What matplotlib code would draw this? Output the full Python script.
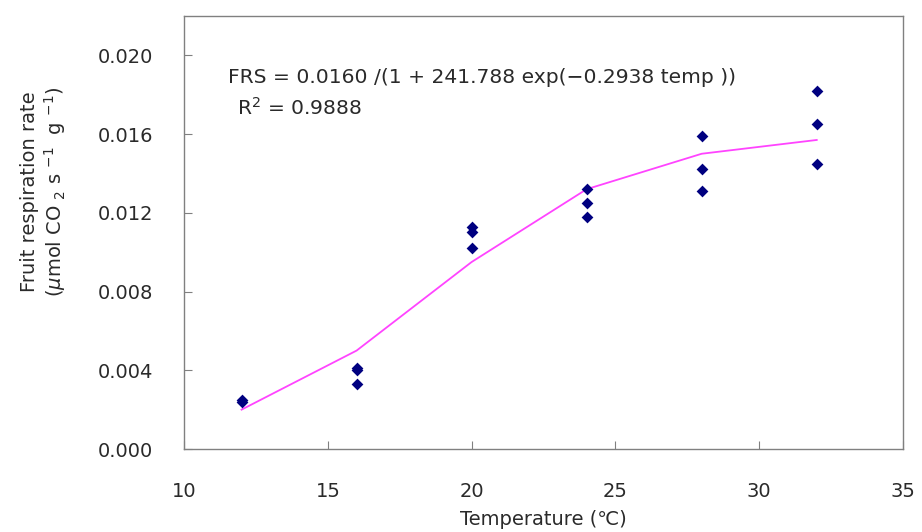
import matplotlib
matplotlib.use("Agg")
import matplotlib.pyplot as plt

# Observed data (temperature, respiration rate)
temp_obs = [12, 12, 16, 16, 16, 20, 20, 20, 24, 24, 24, 28, 28, 28, 32, 32, 32]
frs_obs = [0.0025, 0.0024, 0.0041, 0.0040, 0.0033,
           0.0113, 0.0110, 0.0102,
           0.0132, 0.0125, 0.0118,
           0.0159, 0.0142, 0.0131,
           0.0182, 0.0165, 0.0145]

# Fitted curve values
temp_fit = [12, 16, 20, 24, 28, 32]
frs_fit = [0.0020, 0.0050, 0.0095, 0.0132, 0.0150, 0.0157]

xticks = [10, 15, 20, 25, 30, 35]
yticks = [0.000, 0.004, 0.008, 0.012, 0.016, 0.020]

plt.rcParams['font.family'] = ['DejaVu Sans']
txt = '#2a2a2a'

fig = plt.figure(figsize=(9.22, 5.32), dpi=100)
ax = fig.add_axes([0.1996, 0.156, 0.7798, 0.814])

ax.plot(temp_fit, frs_fit, color='#ff44ff', lw=1.3, zorder=2)
ax.scatter(temp_obs, frs_obs, marker='D', s=36, color='#000080', zorder=3, linewidths=0)

ax.set_xlim(10, 35)
ax.set_ylim(0, 0.022)
ax.set_xticks(xticks)
ax.set_yticks(yticks)
ax.set_xticklabels([str(v) for v in xticks])
ax.set_yticklabels([f"{v:.3f}" for v in yticks])

for s in ax.spines.values():
    s.set_color('#808080')
    s.set_linewidth(1.0)
ax.tick_params(direction='in', length=6, color='#808080', labelcolor=txt, labelsize=14)
ax.tick_params(axis='y', pad=22)
ax.tick_params(axis='x', pad=24)

ax.set_xlabel('Temperature (℃)', fontsize=14, color=txt, labelpad=6)
fig.text(44 / 922, 1 - 192 / 532,
         'Fruit respiration rate\n($\\mu$mol CO $_2$ s $^{-1}$  g $^{-1}$)',
         rotation=90, ha='center', va='center', fontsize=14, color=txt,
         linespacing=1.2, multialignment='center')

ax.text(0.061, 0.857, 'FRS = 0.0160 /(1 + 241.788 exp(−0.2938 temp ))', transform=ax.transAxes,
        fontsize=14.6, color=txt, va='center', ha='left')
ax.text(0.074, 0.787, 'R$^2$ = 0.9888', transform=ax.transAxes,
        fontsize=14.6, color=txt, va='center', ha='left')

fig.savefig('out.png', dpi=100)
